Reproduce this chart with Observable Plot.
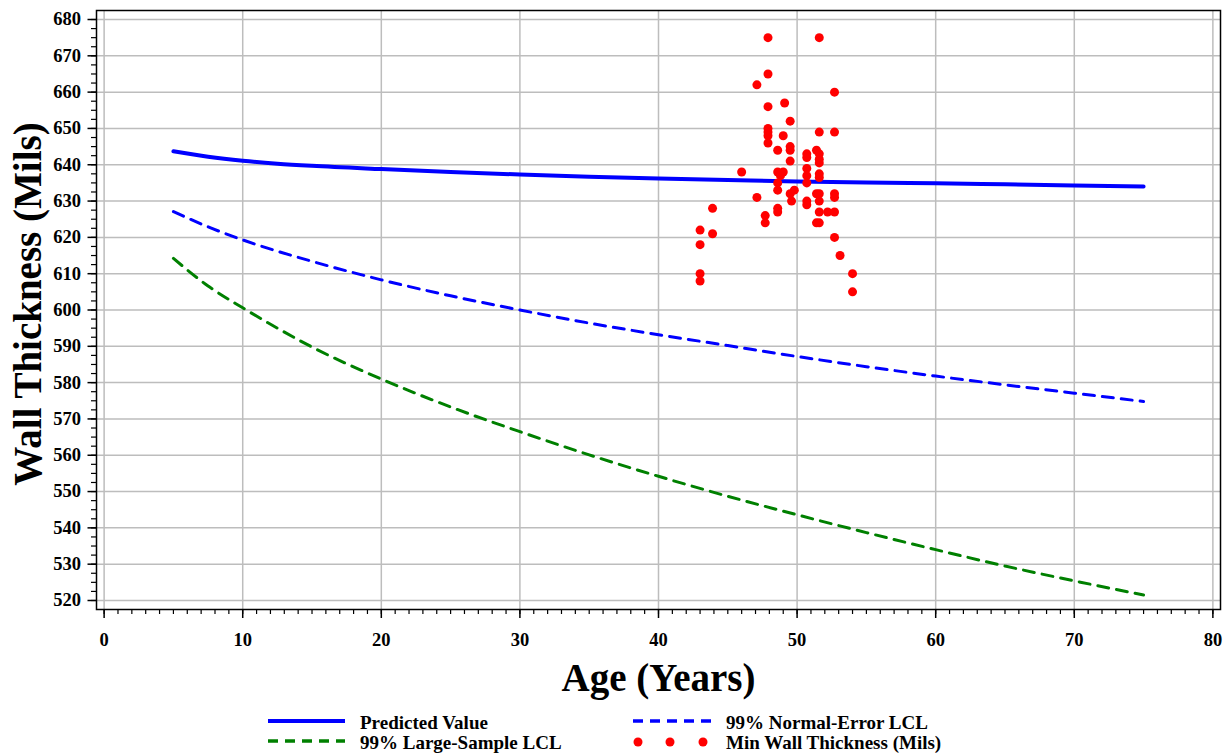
<!DOCTYPE html>
<html><head><meta charset="utf-8">
<script src="https://cdn.jsdelivr.net/npm/d3@7"></script>
<script src="https://cdn.jsdelivr.net/npm/@observablehq/plot@0.6"></script>
<style>
body{margin:0;background:#fff;}
#chart svg, #legend svg{display:block;}
</style></head><body><div id="chart"></div><div id="legend"></div>
<script>
// Line series (age in years)
const lineAges   = [5, 7.5, 10, 12.5, 15, 20, 25, 30, 35, 40, 45, 50, 55, 60, 65, 70, 75];
const predicted  = [643.7, 642.2, 641.1, 640.3, 639.7, 638.8, 638.0, 637.3, 636.7, 636.2, 635.8, 635.4, 635.1, 634.9, 634.6, 634.3, 634.0];
const normalLCL  = [627.1, 622.9, 619.3, 616.2, 613.4, 608.3, 603.9, 600.0, 596.4, 593.2, 590.2, 587.2, 584.4, 581.8, 579.4, 577.1, 574.8];
const largeLCL   = [614.2, 606.6, 600.6, 595.0, 589.8, 581.0, 573.3, 566.5, 560.1, 554.2, 548.7, 543.6, 538.7, 534.0, 529.5, 525.4, 521.5];

// Observed minimum wall thickness
const pointAges = [43.0, 43.0, 43.0, 43.0, 43.9, 43.9, 46.0, 47.1, 47.1, 47.7, 47.7,
  47.9, 47.9, 47.9, 47.9, 47.9, 47.9, 47.9,
  48.6, 48.6, 48.6, 48.6, 48.6, 48.6, 49.0, 49.0, 49.1, 48.8,
  49.5, 49.5, 49.5, 49.5, 49.5, 49.6, 49.8,
  50.7, 50.7, 50.7, 50.7, 50.7, 50.7, 50.7,
  51.4, 51.4, 51.4,
  51.6, 51.6, 51.6, 51.6, 51.6, 51.6, 51.6, 51.6, 51.6, 51.6, 51.6,
  52.2, 52.7, 52.7, 52.7, 52.7, 52.7, 52.7, 53.1, 54.0, 54.0];
const pointThickness = [622, 618, 610, 608, 628, 621, 638, 662, 631, 626, 624,
  675, 665, 656, 650, 649, 648, 646,
  644, 638, 635, 633, 628, 627, 648, 638, 657, 637,
  652, 645, 644, 641, 632, 630, 633,
  643, 642, 639, 637, 635, 630, 629,
  644, 632, 624,
  675, 649, 643, 641.5, 640.5, 637.5, 636.5, 632, 630, 627, 624,
  627, 660, 649, 632, 631, 627, 620, 615, 610, 605];

const xTicks = [0, 10, 20, 30, 40, 50, 60, 70, 80];
const yTicks = [520, 530, 540, 550, 560, 570, 580, 590, 600, 610, 620, 630, 640, 650, 660, 670, 680];
const xMinor = d3.range(0, 81, 1);
const yMinor = d3.range(520, 680.1, 2.5);

const xTitle = "Age (Years)";
const yTitle = "Wall Thickness (Mils)";
const legendItems = [
  {label: "Predicted Value", color: "#0000ff", kind: "solid"},
  {label: "99% Normal-Error LCL", color: "#0000ff", kind: "dash"},
  {label: "99% Large-Sample LCL", color: "#008000", kind: "dash"},
  {label: "Min Wall Thickness (Mils)", color: "#ff0000", kind: "dots"}
];

const lines = lineAges.map((a, i) => ({age: a, pred: predicted[i], normal: normalLCL[i], large: largeLCL[i]}));
const points = pointAges.map((a, i) => ({age: a, t: pointThickness[i]}));
const serif = "'Liberation Serif', 'Times New Roman', serif";

const chart = Plot.plot({
  width: 1231, height: 705,
  marginLeft: 96, marginRight: 11, marginTop: 10, marginBottom: 96,
  style: {fontFamily: serif, fontWeight: "bold", fontSize: "18.5px", background: "#fff", color: "#000"},
  x: {domain: [-0.55, 80.55]},
  y: {domain: [517.52, 682.48]},
  marks: [
    Plot.gridX(xTicks, {stroke: "#bdbdbd", strokeOpacity: 1, strokeWidth: 1.5}),
    Plot.gridY(yTicks, {stroke: "#bdbdbd", strokeOpacity: 1, strokeWidth: 1.5}),
    Plot.axisX(xMinor, {tickSize: 5, tickFormat: () => "", label: null, strokeWidth: 1.2}),
    Plot.axisX(xTicks, {tickSize: 9, tickPadding: 14, label: null, strokeWidth: 1.5, fontSize: 18.5, fontWeight: "bold"}),
    Plot.axisY(yMinor, {tickSize: 5, tickFormat: () => "", label: null, strokeWidth: 1.2}),
    Plot.axisY(yTicks, {tickSize: 8.5, tickPadding: 7, label: null, strokeWidth: 1.5, fontSize: 18.5, fontWeight: "bold"}),
    Plot.line(lines, {x: "age", y: "large", stroke: "#008000", strokeWidth: 3, strokeDasharray: "11,8", curve: "monotone-x"}),
    Plot.line(lines, {x: "age", y: "normal", stroke: "#0000ff", strokeWidth: 3, strokeDasharray: "11,8", curve: "monotone-x"}),
    Plot.line(lines, {x: "age", y: "pred", stroke: "#0000ff", strokeWidth: 4, curve: "monotone-x"}),
    Plot.dot(points, {x: "age", y: "t", r: 4.5, fill: "#ff0000", stroke: null}),
    Plot.frame({stroke: "#000", strokeWidth: 1.5}),
    Plot.text([xTitle], {frameAnchor: "bottom", dy: 81, fontSize: 39, fontWeight: "bold"}),
    Plot.text([yTitle], {frameAnchor: "left", textAnchor: "middle", dx: -68, dy: -6, rotate: -90, fontSize: 39, fontWeight: "bold"})
  ]
});
document.getElementById("chart").appendChild(chart);

// Legend below the plot
const lg = d3.select("#legend").append("svg").attr("width", 1231).attr("height", 51)
  .style("font-family", serif).style("font-weight", "bold").style("font-size", "19px");
const slots = [{x0: 268, x1: 345, tx: 360, y: 17}, {x0: 633, x1: 718, tx: 726, y: 17},
               {x0: 268, x1: 345, tx: 360, y: 37}, {x0: 633, x1: 718, tx: 726, y: 37}];
legendItems.forEach((it, i) => {
  const s = slots[i];
  if (it.kind === "dots") {
    [638, 670, 703].forEach(cx => lg.append("circle").attr("cx", cx).attr("cy", s.y).attr("r", 4.5).attr("fill", it.color));
  } else {
    lg.append("line").attr("x1", s.x0).attr("x2", s.x1).attr("y1", s.y - 1).attr("y2", s.y - 1)
      .attr("stroke", it.color).attr("stroke-width", it.kind === "solid" ? 4 : 3.5)
      .attr("stroke-dasharray", it.kind === "dash" ? "10,7" : null);
  }
  lg.append("text").attr("x", s.tx).attr("y", s.y).attr("dy", "0.35em").text(it.label);
});
</script>
</body></html>
